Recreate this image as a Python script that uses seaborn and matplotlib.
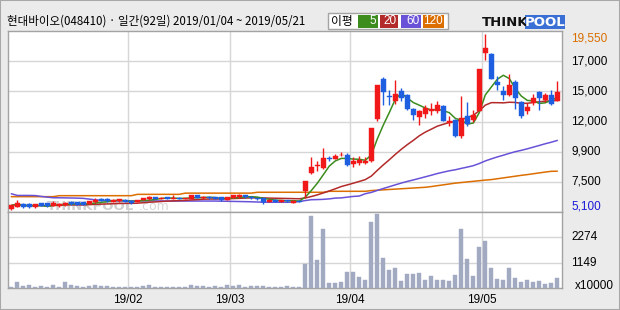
import numpy as np
import pandas as pd
import matplotlib
matplotlib.use("Agg")
import matplotlib.pyplot as plt
import matplotlib.transforms as mtransforms
from matplotlib.patches import Rectangle
import seaborn as sns

# ---------------- data ----------------
title = "현대바이오(048410) · 일간(92일) 2019/01/04 ~ 2019/05/21"
month_labels = ["19/02", "19/03", "19/04", "19/05"]
month_start_idx = [20, 37, 57, 79]
price_tick_labels = ["7,500", "9,900", "12,000", "15,000", "17,000"]
vol_tick_labels = ["1149", "2274"]
max_label = "19,550"
min_label = "5,100"
vol_unit = "x10000"
legend_title = "이평"
legend_periods = ["5", "20", "60", "120"]

opens = [5210, 5370, 5620, 5590, 5350, 5650, 5650, 5430, 5400, 5480,
         5790, 5760, 5730, 5590, 5760, 6030, 6030, 5760, 5810, 5950,
         5870, 5760, 5950, 5980, 6150, 6030, 6140, 6000, 6110, 6000,
         6000, 6300, 6060, 6200, 6150, 6150, 5950, 6100, 6150, 6330,
         6200, 6100, 6050, 5800, 5950, 5780, 5920, 5720, 5870, 6630,
         8140, 8680, 8550, 9370, 9310, 9590, 9640, 8880, 8960, 8960,
         9100, 12600, 15880, 14430, 14080, 14840, 14570, 13420, 12710, 12980,
         13200, 13200, 13640, 12220, 12520, 11200, 12790, 12460, 13260, 17990,
         17910, 15610, 14840, 14570, 15610, 13970, 13260, 13890, 14790, 14100,
         14510, 14080]
highs = [5520, 5890, 5680, 5650, 5620, 5700, 5700, 5810, 5680, 5790,
         5830, 5800, 5770, 5870, 6090, 6080, 6070, 5970, 6020, 5990,
         5910, 5940, 6120, 6280, 6200, 6170, 6180, 6300, 6140, 6130,
         6330, 6330, 6240, 6240, 6180, 6180, 6200, 6350, 6380, 6360,
         6230, 6130, 6080, 5990, 5980, 5950, 5950, 5900, 5900, 7480,
         9450, 9100, 10190, 9510, 9700, 9860, 9780, 9420, 9510, 9420,
         11860, 15400, 15990, 14980, 15800, 15120, 14650, 13450, 13300, 13690,
         13890, 14080, 13700, 12790, 12600, 14430, 13970, 13340, 16700, 19550,
         17950, 16070, 15250, 16270, 15800, 14080, 13890, 14620, 14900, 14710,
         14950, 15720]
lows = [5100, 5330, 5300, 5280, 5300, 5400, 5370, 5400, 5370, 5450,
        5530, 5510, 5480, 5560, 5720, 5840, 5780, 5730, 5780, 5730,
        5620, 5730, 5920, 5950, 6000, 6000, 5990, 5980, 5970, 5970,
        5980, 6050, 6030, 6030, 5970, 5850, 5900, 6080, 6120, 6120,
        6020, 5950, 5570, 5770, 5770, 5750, 5790, 5700, 5730, 6090,
        8100, 8330, 8500, 9100, 9250, 9560, 8740, 8600, 8820, 8900,
        9050, 12380, 13750, 13750, 13800, 14020, 13300, 12520, 12110, 12650,
        12870, 13060, 12380, 11970, 11070, 11010, 12020, 12330, 13200, 17440,
        15850, 14980, 14160, 14430, 13420, 12650, 12980, 13690, 13340, 13970,
        13690, 14050]
closes = [5480, 5650, 5350, 5320, 5560, 5430, 5400, 5680, 5620, 5700,
          5560, 5540, 5510, 5810, 5950, 5870, 5810, 5920, 5980, 5760,
          5650, 5890, 6080, 6170, 6030, 6120, 6020, 6100, 6000, 6090,
          6300, 6080, 6200, 6060, 6000, 5920, 6150, 6300, 6350, 6150,
          6050, 5980, 5800, 5950, 5800, 5920, 5820, 5870, 5760, 7450,
          8600, 8820, 9370, 9310, 9560, 9640, 8820, 9090, 9230, 9150,
          11830, 15390, 14790, 14350, 14620, 14300, 13420, 12930, 13260, 13470,
          13420, 13750, 12430, 12380, 11150, 12650, 12160, 12870, 16680, 18400,
          15880, 15340, 14510, 15340, 14300, 12790, 13560, 14300, 14300, 14570,
          13800, 14790]
volumes = [60, 290, 105, 150, 60, 105, 60, 150, 60, 290,
           150, 105, 60, 105, 150, 105, 105, 60, 60, 60,
           60, 60, 105, 150, 60, 60, 60, 60, 60, 60,
           150, 105, 105, 60, 105, 60, 150, 105, 150, 60,
           105, 105, 105, 60, 60, 60, 105, 60, 60, 1080,
           3245, 1240, 2650, 210, 210, 255, 710, 740, 515, 380,
           2970, 3335, 1330, 830, 920, 300, 620, 620, 665, 380,
           560, 380, 380, 330, 605, 2650, 1290, 560, 1830, 2100,
           880, 425, 380, 880, 470, 290, 380, 260, 300, 165,
           210, 470]
# MA60 for the days whose 60-day window starts before Jan 4
ma60_head = [6440, 6300, 6300, 6300, 6290, 6220, 6160, 6110, 6110, 6100,
             6090, 6080, 6060, 6000, 5940, 5900, 5880, 5860, 5850, 5850,
             5850, 5850, 5850, 5850, 5850, 5850, 5840, 5840, 5840, 5840,
             5840, 5840, 5840, 5840, 5840, 5830, 5820, 5810, 5800, 5790,
             5780, 5760, 5740, 5740, 5740, 5740, 5740, 5760, 5800, 5880,
             5950, 5960, 5980, 6020, 6080, 6100, 6160, 6220, 6250]
# MA120 (window reaches before the shown period)
ma120 = [6200, 6200, 6200, 6200, 6200, 6200, 6200, 6200, 6280, 6280,
         6280, 6280, 6280, 6280, 6280, 6280, 6280, 6280, 6280, 6280,
         6280, 6390, 6390, 6390, 6390, 6390, 6390, 6390, 6390, 6490,
         6490, 6490, 6490, 6490, 6490, 6490, 6490, 6490, 6490, 6490,
         6490, 6560, 6560, 6560, 6560, 6560, 6560, 6560, 6560, 6560,
         6560, 6560, 6560, 6640, 6640, 6640, 6640, 6640, 6640, 6640,
         6700, 6730, 6760, 6790, 6820, 6850, 6880, 6910, 6940, 6970,
         7030, 7100, 7170, 7240, 7310, 7360, 7410, 7460, 7510, 7560,
         7600, 7670, 7740, 7810, 7880, 7950, 8010, 8080, 8150, 8220,
         8280, 8290]

# ---------------- derived ----------------
n = len(closes)
idx = np.arange(n)
df = pd.DataFrame({"i": idx, "open": opens, "high": highs, "low": lows,
                   "close": closes, "volume": volumes})
df["ma5"] = df["close"].rolling(5, min_periods=1).mean()
df["ma20"] = df["close"].rolling(20, min_periods=1).mean()
ma60_calc = df["close"].rolling(60).mean()
df["ma60"] = list(ma60_head) + list(ma60_calc.iloc[len(ma60_head):])
df["ma120"] = ma120

# ---------------- style ----------------
sns.set_theme(style="white")
plt.rcParams["font.family"] = ["Noto Sans CJK KR", "DejaVu Sans"]

W, H = 620, 310
BG = "#ebebeb"
GRID = "#d6d6d6"
SPINE = "#a3a3a3"
UP = "#f01818"
DOWN = "#1e5fe2"
C5, C20, C60, C120 = "#3c8c1e", "#b32a2a", "#6a52d8", "#dc6e00"
VOLC = "#a2aac2"

fig = plt.figure(figsize=(W / 100, H / 100), dpi=100, facecolor=BG)


def frect(x0, y0, x1, y1):
    return [x0 / W, 1 - y1 / H, (x1 - x0) / W, (y1 - y0) / H]


def fx(x):
    return x / W


def fy(y):
    return 1 - y / H


axp = fig.add_axes(frect(7.5, 31, 562, 212))
axv = fig.add_axes(frect(7.5, 212, 562, 288))

for ax in (axp, axv):
    ax.set_facecolor("white")
    for s in ax.spines.values():
        s.set_color(SPINE)
        s.set_linewidth(1.0)

xlo, xhi = -0.63, n - 1 + 0.78
lo, hi = min(lows), max(highs)
rng = hi - lo
plo, phi = lo - 0.011 * rng, hi + 0.017 * rng
vtop = max(volumes) * 1.025

# grid lines
for m in month_start_idx:
    axp.axvline(m - 0.5, color=GRID, lw=1.0, zorder=0)
    axv.axvline(m - 0.5, color=GRID, lw=1.0, zorder=0)
price_grid = [plo + (phi - plo) * k / 6 for k in range(1, 6)]
for g in price_grid:
    axp.axhline(g, color=GRID, lw=1.0, zorder=0)
vol_grid = [vtop * k / 3 for k in range(1, 3)]
for g in vol_grid:
    axv.axhline(g, color=GRID, lw=1.0, zorder=0)

# watermark
axp.text(5.9, plo + (phi - plo) * 0.012, "THINKPOOL", fontsize=9.5,
         fontweight="bold", color="#cfcfcf", family="DejaVu Sans",
         ha="left", va="baseline", zorder=1)
axp.text(21.2, plo + (phi - plo) * 0.012, ".com", fontsize=9,
         color="#d6d6d6", family="DejaVu Sans", ha="left", va="baseline", zorder=1)

# moving averages
for col, c in (("ma120", C120), ("ma60", C60), ("ma20", C20), ("ma5", C5)):
    sns.lineplot(data=df, x="i", y=col, ax=axp, color=c, lw=1.1,
                 estimator=None, zorder=2, legend=False)

# candles
up = df["close"] >= df["open"]
colors = np.where(up, UP, DOWN)
axp.vlines(df["i"], df["low"], df["high"], colors=colors, lw=1.0, zorder=3)
body_lo = np.minimum(df["open"], df["close"])
body_h = np.maximum(np.abs(df["close"] - df["open"]), 50)
axp.bar(df["i"], body_h, bottom=body_lo, width=0.74, color=colors,
        edgecolor=colors, linewidth=0.3, zorder=4)

# volume
axv.bar(df["i"], df["volume"], width=0.68, color=VOLC, edgecolor=VOLC,
        linewidth=0.3, zorder=3)

for ax in (axp, axv):
    ax.set_xlim(xlo, xhi)
    ax.set_xlabel("")
    ax.set_ylabel("")
    ax.tick_params(left=False, right=False, bottom=False, top=False,
                   labelleft=False, labelbottom=False)
axp.set_ylim(plo, phi)
axv.set_ylim(0, vtop)

# right-hand labels
tp = mtransforms.blended_transform_factory(fig.transFigure, axp.transData)
tv = mtransforms.blended_transform_factory(fig.transFigure, axv.transData)
lab_kw = dict(fontsize=8.5, family="Liberation Sans", ha="left", va="center")
for g, t in zip(price_grid, price_tick_labels):
    fig.text(fx(571), g, t, transform=tp, color="black", **lab_kw)
pmax_y = min(hi, plo + (phi - plo) * 0.96)
pmin_y = max(lo, plo + (phi - plo) * 0.028)
fig.text(fx(571), pmax_y, max_label, transform=tp, color="#d86e00", **lab_kw)
fig.text(fx(571), pmin_y, min_label, transform=tp, color="#1a1ad8", **lab_kw)
for g, t in zip(vol_grid, vol_tick_labels):
    fig.text(fx(571), g, t, transform=tv, color="black", **lab_kw)
fig.text(fx(575), fy(286), vol_unit, color="black", fontsize=8.5,
         family="Liberation Sans", ha="left", va="center")

# month labels
tm = mtransforms.blended_transform_factory(axv.transData, fig.transFigure)
for m, t in zip(month_start_idx, month_labels):
    fig.text(m - 0.5, fy(300), t, transform=tm, fontsize=8.5,
             family="Liberation Sans", ha="center", va="center", color="black")

# title
fig.text(fx(7), fy(21.5), title, fontsize=8.3, ha="left", va="center",
         color="black", family=["Noto Sans CJK KR", "DejaVu Sans"])

# legend box
fig.patches.append(Rectangle((fx(327.5), fy(29)), (448 - 327.5) / W, 16 / H,
                             transform=fig.transFigure, facecolor="white",
                             edgecolor=SPINE, lw=1.0))
fig.text(fx(331), fy(21), legend_title, fontsize=8.5, ha="left", va="center",
         color="black", family=["Noto Sans CJK KR", "DejaVu Sans"])
boxes = [(358, 378), (380, 398), (401, 421), (423, 444)]
for (x0, x1), c, t in zip(boxes, (C5, C20, C60, C120), legend_periods):
    fig.patches.append(Rectangle((fx(x0), fy(27.5)), (x1 - x0) / W, 12.5 / H,
                                 transform=fig.transFigure, facecolor=c,
                                 edgecolor="none"))
    fig.text(fx(x1 - 1.5), fy(21.5), t, fontsize=8.5, ha="right", va="center",
             color="white", family="Liberation Sans")

# logo
fig.text(fx(482), fy(22), "THINK", fontsize=9.5, fontweight="heavy",
         family="DejaVu Sans", ha="left", va="center", color="#111111")
fig.patches.append(Rectangle((fx(525), fy(28.5)), 40 / W, 13.5 / H,
                             transform=fig.transFigure, facecolor="#3a6fd6",
                             edgecolor="none"))
fig.text(fx(545), fy(22), "POOL", fontsize=9.5, fontweight="heavy",
         family="DejaVu Sans", ha="center", va="center", color="white")

# outer border
fig.patches.append(Rectangle((0, 0), 1, 1, transform=fig.transFigure,
                             fill=False, edgecolor="#a8a8a8", lw=1.5))

fig.savefig("out.png", dpi=100, facecolor=BG)
